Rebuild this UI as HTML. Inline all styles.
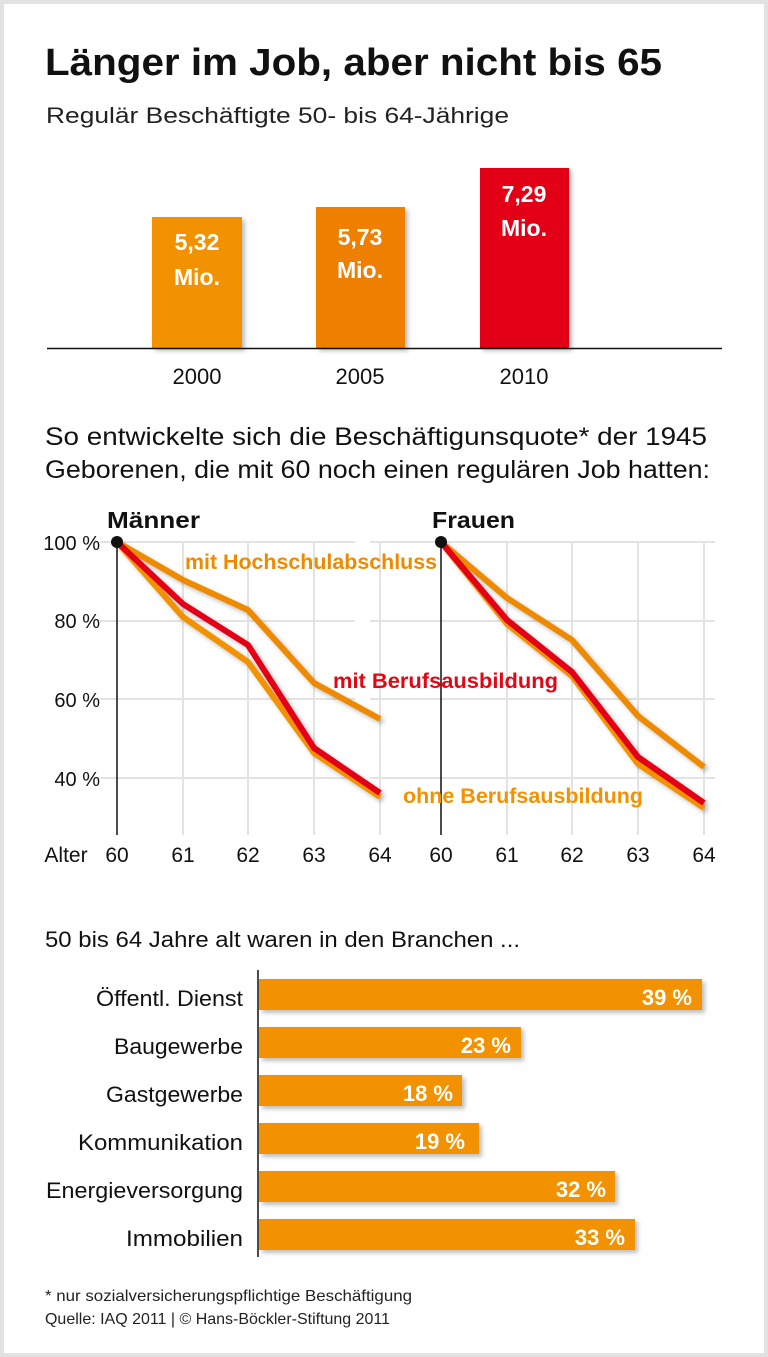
<!DOCTYPE html>
<html><head><meta charset="utf-8"><style>
html,body{margin:0;padding:0;background:#fff}
svg{display:block}
text{font-family:"Liberation Sans",sans-serif}
</style></head><body>
<svg width="768" height="1357" viewBox="0 0 768 1357" xmlns="http://www.w3.org/2000/svg">
<defs><filter id="sh" x="-5%" y="-20%" width="115%" height="160%"><feDropShadow dx="3" dy="3" stdDeviation="2" flood-color="#000" flood-opacity="0.25"/></filter></defs>
<rect x="0" y="0" width="768" height="1357" fill="#fff"/>
<rect x="2" y="2" width="764" height="1353" fill="none" stroke="#e2e2e2" stroke-width="4"/>
<text x="45" y="75" font-size="38" font-weight="bold" fill="#111" textLength="617" lengthAdjust="spacingAndGlyphs">Länger im Job, aber nicht bis 65</text>
<text x="46" y="123" font-size="22" fill="#222" textLength="463" lengthAdjust="spacingAndGlyphs">Regulär Beschäftigte 50- bis 64-Jährige</text>
<rect x="152" y="217" width="90" height="131" fill="#F39200" filter="url(#sh)"/>
<rect x="316" y="207" width="89" height="141" fill="#EE7F00" filter="url(#sh)"/>
<rect x="480" y="168" width="89" height="180" fill="#E30613" filter="url(#sh)"/>
<g font-size="23" font-weight="bold" fill="#fff" text-anchor="middle">
<text x="197" y="250">5,32</text><text x="197" y="285">Mio.</text>
<text x="360" y="245">5,73</text><text x="360" y="278">Mio.</text>
<text x="524" y="202">7,29</text><text x="524" y="236">Mio.</text>
</g>
<line x1="47" y1="348.5" x2="722" y2="348.5" stroke="#111" stroke-width="1.5"/>
<g font-size="22" fill="#111" text-anchor="middle">
<text x="197" y="384">2000</text><text x="360" y="384">2005</text><text x="524" y="384">2010</text>
</g>
<text x="45" y="445" font-size="25" fill="#111" textLength="662" lengthAdjust="spacingAndGlyphs">So entwickelte sich die Beschäftigunsquote* der 1945</text>
<text x="45" y="478" font-size="25" fill="#111" textLength="665" lengthAdjust="spacingAndGlyphs">Geborenen, die mit 60 noch einen regulären Job hatten:</text>
<g stroke="#e3e3e3" stroke-width="2">
<line x1="100" y1="542" x2="355" y2="542"/><line x1="100" y1="621" x2="355" y2="621"/><line x1="100" y1="699" x2="355" y2="699"/><line x1="100" y1="778" x2="355" y2="778"/>
<line x1="370" y1="542" x2="715" y2="542"/><line x1="370" y1="621" x2="715" y2="621"/><line x1="370" y1="699" x2="715" y2="699"/><line x1="370" y1="778" x2="715" y2="778"/>
<line x1="183" y1="542" x2="183" y2="835"/><line x1="248" y1="542" x2="248" y2="835"/><line x1="314" y1="542" x2="314" y2="835"/><line x1="380" y1="542" x2="380" y2="835"/>
<line x1="507" y1="542" x2="507" y2="835"/><line x1="572" y1="542" x2="572" y2="835"/><line x1="638" y1="542" x2="638" y2="835"/><line x1="704" y1="542" x2="704" y2="835"/>
</g>
<line x1="117" y1="542" x2="117" y2="835" stroke="#111" stroke-width="1.5"/>
<line x1="441" y1="542" x2="441" y2="835" stroke="#111" stroke-width="1.5"/>
<g fill="none" stroke-width="6" stroke-linejoin="round" filter="url(#sh)">
<polyline stroke="#EE8A00" points="117,542 183,580 248,610 314,683 380,719"/>
<polyline stroke="#F39200" points="117,542 183,617 248,662 314,753 380,797"/>
<polyline stroke="#E30613" points="117,542 183,604 248,645 314,748 380,793"/>
<polyline stroke="#EE8A00" points="441,542 507,598 572,640 638,716 704,767"/>
<polyline stroke="#F39200" points="441,542 507,624 572,676 638,764 704,808"/>
<polyline stroke="#E30613" points="441,542 507,620 572,672 638,757 704,803"/>
</g>
<circle cx="117" cy="542" r="6" fill="#111"/><circle cx="441" cy="542" r="6" fill="#111"/>
<text x="107" y="528" font-size="23" font-weight="bold" fill="#111" textLength="93" lengthAdjust="spacingAndGlyphs">Männer</text>
<text x="432" y="528" font-size="23" font-weight="bold" fill="#111" textLength="83" lengthAdjust="spacingAndGlyphs">Frauen</text>
<g font-size="21" font-weight="bold">
<text x="185" y="569" fill="#EE8A00" textLength="252" lengthAdjust="spacingAndGlyphs">mit Hochschulabschluss</text>
<text x="333" y="688" fill="#E30613" textLength="225" lengthAdjust="spacingAndGlyphs">mit Berufsausbildung</text>
<text x="403" y="803" fill="#F39200" textLength="240" lengthAdjust="spacingAndGlyphs">ohne Berufsausbildung</text>
</g>
<g font-size="20" fill="#111" text-anchor="end">
<text x="100" y="550">100 %</text><text x="100" y="628">80 %</text><text x="100" y="707">60 %</text><text x="100" y="786">40 %</text>
</g>
<g font-size="21" fill="#111" text-anchor="middle">
<text x="66" y="862">Alter</text>
<text x="117" y="862">60</text><text x="183" y="862">61</text><text x="248" y="862">62</text><text x="314" y="862">63</text><text x="380" y="862">64</text>
<text x="441" y="862">60</text><text x="507" y="862">61</text><text x="572" y="862">62</text><text x="638" y="862">63</text><text x="704" y="862">64</text>
</g>
<text x="45" y="947" font-size="22" fill="#111" textLength="475" lengthAdjust="spacingAndGlyphs">50 bis 64 Jahre alt waren in den Branchen ...</text>
<line x1="258" y1="970" x2="258" y2="1257" stroke="#111" stroke-width="1.5"/>
<g fill="#F39200" filter="url(#sh)">
<rect x="259" y="979" width="443" height="31"/>
<rect x="259" y="1027" width="262" height="31"/>
<rect x="259" y="1075" width="203" height="31"/>
<rect x="259" y="1123" width="220" height="31"/>
<rect x="259" y="1171" width="356" height="31"/>
<rect x="259" y="1219" width="376" height="31"/>
</g>
<g font-size="22" font-weight="bold" fill="#fff" text-anchor="end">
<text x="692" y="1005">39 %</text><text x="511" y="1053">23 %</text><text x="453" y="1101">18 %</text>
<text x="465" y="1149">19 %</text><text x="606" y="1197">32 %</text><text x="625" y="1245">33 %</text>
</g>
<g font-size="22" fill="#111" text-anchor="end">
<text x="243" y="1006" textLength="147" lengthAdjust="spacingAndGlyphs">Öffentl. Dienst</text>
<text x="243" y="1054" textLength="129" lengthAdjust="spacingAndGlyphs">Baugewerbe</text>
<text x="243" y="1102" textLength="137" lengthAdjust="spacingAndGlyphs">Gastgewerbe</text>
<text x="243" y="1150" textLength="165" lengthAdjust="spacingAndGlyphs">Kommunikation</text>
<text x="243" y="1198" textLength="197" lengthAdjust="spacingAndGlyphs">Energieversorgung</text>
<text x="243" y="1246" textLength="117" lengthAdjust="spacingAndGlyphs">Immobilien</text>
</g>
<text x="45" y="1301" font-size="16" fill="#222" textLength="367" lengthAdjust="spacingAndGlyphs">* nur sozialversicherungspflichtige Beschäftigung</text>
<text x="45" y="1324" font-size="16" fill="#222" textLength="345" lengthAdjust="spacingAndGlyphs">Quelle: IAQ 2011 | © Hans-Böckler-Stiftung 2011</text>
</svg>
</body></html>
